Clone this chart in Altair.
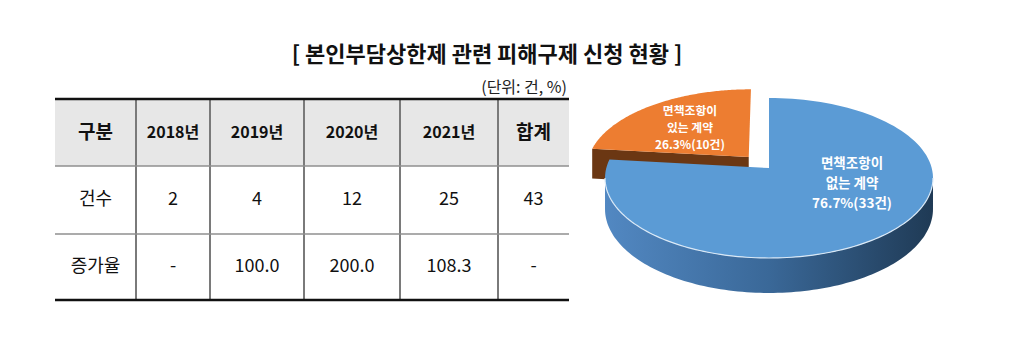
import altair as alt
import pandas as pd

# ---------------- data ----------------
title_text = "[ 본인부담상한제 관련 피해구제 신청 현황 ]"
unit_text = "(단위: 건, %)"
col_headers = ["구분", "2018년", "2019년", "2020년", "2021년", "합계"]
row_labels = ["건수", "증가율"]
count_values = ["2", "4", "12", "25", "43"]
rate_values = ["-", "100.0", "200.0", "108.3", "-"]

pie_names = ["면책조항이 없는 계약", "면책조항이 있는 계약"]
pie_counts = [33, 10]
pie_pct_text = ["76.7%", "26.3%"]

# ---------------- layout / style ----------------
W, H = 1024, 351
FONT = "Noto Sans CJK KR"
COL_EDGES = [55, 136, 210, 304, 400, 498, 569]
ROW_EDGES = [99, 166, 234, 300]
TITLE_POS = (487, 55)
UNIT_POS = (567, 88)
CX, CY, RX, RY, Q, DEPTH = 769, 168, 162.7, 78.75, 0.125, 30.6
EXPLODE = [0.0, 0.19]
LABEL_POS = [(852, 184), (690, 128)]
LABEL_SIZE = [13.5, 11.8]
LABEL_LINE = [19.7, 17.2]
TOP_COLORS = ["#5b9bd5", "#ed7d31"]
FACE_COLORS = ["#2f5a83", "#6b3713"]
WALL_STOPS = [["#5288c2", "#3a6898", "#1f3a55"], ["#b35d22", "#8a4516", "#5e2f0c"]]
N = 120

X = alt.X("px:Q", scale=alt.Scale(domain=[0, W], nice=False, zero=False), axis=None)
Y = alt.Y("py:Q", scale=alt.Scale(domain=[0, H], nice=False, zero=False, reverse=True), axis=None)
X2 = alt.X2("px2:Q")
Y2 = alt.Y2("py2:Q")

# ---------------- table ----------------
rows = [col_headers, [row_labels[0]] + count_values, [row_labels[1]] + rate_values]
cells = []
for r, row in enumerate(rows):
    for c, txt in enumerate(row):
        kind = "body"
        if r == 0:
            kind = "head_year" if txt[0].isdigit() else "head"
        cells.append({
            "text": txt, "kind": kind,
            "px": (COL_EDGES[c] + COL_EDGES[c + 1]) / 2,
            "py": (ROW_EDGES[r] + ROW_EDGES[r + 1]) / 2,
        })
cells_df = pd.DataFrame(cells)

header_bg = alt.Chart(pd.DataFrame([{
    "px": COL_EDGES[0], "px2": COL_EDGES[-1], "py": ROW_EDGES[0], "py2": ROW_EDGES[1]
}])).mark_rect(fill="#e7e7e7").encode(x=X, x2=X2, y=Y, y2=Y2)

thick_df = pd.DataFrame([{"px": COL_EDGES[0], "px2": COL_EDGES[-1], "py": y}
                         for y in (ROW_EDGES[0], ROW_EDGES[-1])])
thin_df = pd.DataFrame([{"px": COL_EDGES[0], "px2": COL_EDGES[-1], "py": y}
                        for y in ROW_EDGES[1:-1]])
vline_df = pd.DataFrame([{"px": x, "py": ROW_EDGES[0], "py2": ROW_EDGES[-1]}
                         for x in COL_EDGES[1:-1]])

vlines = alt.Chart(vline_df).mark_rule(color="#7a7a7a", strokeWidth=2).encode(x=X, y=Y, y2=Y2)
thin_lines = alt.Chart(thin_df).mark_rule(color="#8f8f8f", strokeWidth=1.5).encode(x=X, x2=X2, y=Y)
thick_lines = alt.Chart(thick_df).mark_rule(color="#111111", strokeWidth=2.6).encode(x=X, x2=X2, y=Y)

def cell_text(kind, size, weight):
    return alt.Chart(cells_df).transform_filter(f"datum.kind == '{kind}'").mark_text(
        font=FONT, fontSize=size, fontWeight=weight, color="#111111",
        align="center", baseline="middle"
    ).encode(x=X, y=Y, text="text:N")

head_txt = cell_text("head", 19, "bold")
year_txt = cell_text("head_year", 16, "bold")
body_txt = cell_text("body", 18, "normal")

misc_df = pd.DataFrame([
    {"text": title_text, "px": TITLE_POS[0], "py": TITLE_POS[1], "kind": "title"},
    {"text": unit_text, "px": UNIT_POS[0], "py": UNIT_POS[1], "kind": "unit"},
])
title_txt = alt.Chart(misc_df).transform_filter("datum.kind == 'title'").mark_text(
    font=FONT, fontSize=22, fontWeight="bold", color="#111111", align="center", baseline="middle"
).encode(x=X, y=Y, text="text:N")
unit_txt = alt.Chart(misc_df).transform_filter("datum.kind == 'unit'").mark_text(
    font=FONT, fontSize=16, color="#222222", align="right", baseline="middle"
).encode(x=X, y=Y, text="text:N")

# ---------------- 3D pie ----------------
pie_df = pd.DataFrame({
    "name": pie_names,
    "count": pie_counts,
    "pct": pie_pct_text,
    "order": list(range(len(pie_names))),
    "explode": EXPLODE,
})

# one text row per label line
label_rows = []
for i, (n, p, c) in enumerate(zip(pie_names, pie_pct_text, pie_counts)):
    first, second = n.split(" ", 1)
    lines = [first, second, p + f"({c}건)"]
    for j, line in enumerate(lines):
        label_rows.append({
            "order": i, "text": line,
            "px": LABEL_POS[i][0],
            "py": LABEL_POS[i][1] + (j - (len(lines) - 1) / 2) * LABEL_LINE[i],
        })
label_df = pd.DataFrame(label_rows)


def pie_base(i):
    return (
        alt.Chart(pie_df)
        .transform_joinaggregate(total="sum(count)")
        .transform_window(cum="sum(count)", sort=[alt.SortField("order")], frame=[None, 0])
        .transform_calculate(
            t0="2*PI*(datum.cum - datum.count)/datum.total",
            t1="2*PI*datum.cum/datum.total",
        )
        .transform_calculate(
            tm="(datum.t0 + datum.t1)/2",
        )
        .transform_calculate(
            ox="datum.explode*sin(datum.tm)",
            oz="-datum.explode*cos(datum.tm)",
        )
        .transform_filter(f"datum.order == {i}")
    )


def project(ch):
    return ch.transform_calculate(
        w=f"1/(1 - {Q}*datum.Z)"
    ).transform_calculate(
        px=f"{CX} + {RX}*datum.X*datum.w",
        py=f"{CY} + {RY}*datum.Z*datum.w + (datum.bottom ? {DEPTH}*datum.w : 0)",
    )


def top_face(i):
    ch = pie_base(i).transform_calculate(k=f"sequence(0, {N + 2})").transform_flatten(["k"])
    ch = ch.transform_calculate(
        t=f"datum.t0 + (datum.t1 - datum.t0)*(datum.k - 1)/{N}",
    ).transform_calculate(
        X="(datum.k == 0 ? 0 : sin(datum.t)) + datum.ox",
        Z="(datum.k == 0 ? 0 : -cos(datum.t)) + datum.oz",
        bottom="false",
    )
    return project(ch).mark_line(fill=TOP_COLORS[i], strokeWidth=0, interpolate="linear").encode(
        x=X, y=Y, order="k:Q")


def wall_points(i, total_pts, bottom_expr, t_expr):
    ch = pie_base(i).transform_calculate(
        ta=f"acos(-{Q})",
    ).transform_calculate(
        wa="max(datum.t0, datum.ta)",
        wb=f"min(datum.t1, 2*PI - datum.ta)",
    ).transform_filter("datum.wa < datum.wb").transform_calculate(
        k=f"sequence(0, {total_pts})"
    ).transform_flatten(["k"]).transform_calculate(
        t=t_expr
    ).transform_calculate(
        X="sin(datum.t) + datum.ox",
        Z="-cos(datum.t) + datum.oz",
        bottom=bottom_expr,
    )
    return project(ch)


def wall(i):
    M = N
    t_expr = (f"datum.k <= {M} ? datum.wa + (datum.wb - datum.wa)*datum.k/{M} : "
              f"datum.wb - (datum.wb - datum.wa)*(datum.k - {M} - 1)/{M}")
    ch = wall_points(i, 2 * M + 2, f"datum.k > {M}", t_expr)
    stops = WALL_STOPS[i]
    grad = alt.Gradient(
        gradient="linear",
        stops=[alt.GradientStop(color=stops[0], offset=0),
               alt.GradientStop(color=stops[1], offset=0.5),
               alt.GradientStop(color=stops[2], offset=1)],
        x1=0, x2=1, y1=0, y2=0,
    )
    return ch.mark_line(fill=grad, strokeWidth=0, interpolate="linear").encode(x=X, y=Y, order="k:Q")


def rim(i):
    ch = wall_points(i, N + 1, "false", f"datum.wa + (datum.wb - datum.wa)*datum.k/{N}")
    return ch.mark_line(stroke="#d9e8f6", strokeWidth=1.2, interpolate="linear").encode(
        x=X, y=Y, order="k:Q")


def cut_face(i, which):
    # which: 't0' face visible if sin(t0) < 0, 't1' face visible if sin(t1) > 0
    cond = "sin(datum.t0) < -1e-6" if which == "t0" else "sin(datum.t1) > 1e-6"
    ch = pie_base(i).transform_filter(cond).transform_calculate(
        k="sequence(0, 4)"
    ).transform_flatten(["k"]).transform_calculate(
        r="(datum.k == 1 || datum.k == 2) ? 1 : 0",
        bottom="datum.k >= 2",
    ).transform_calculate(
        X=f"datum.r*sin(datum.{which}) + datum.ox",
        Z=f"-datum.r*cos(datum.{which}) + datum.oz",
    )
    return project(ch).mark_line(fill=FACE_COLORS[i], strokeWidth=0, interpolate="linear").encode(
        x=X, y=Y, order="k:Q")


pie_layers = []
for i in [1, 0]:  # back slice first
    pie_layers += [wall(i), cut_face(i, "t0"), cut_face(i, "t1"), top_face(i), rim(i)]

pie_text = [
    alt.Chart(label_df).transform_filter(f"datum.order == {i}").mark_text(
        font=FONT, fontSize=LABEL_SIZE[i], fontWeight="bold", color="white",
        align="center", baseline="middle",
    ).encode(x=X, y=Y, text="text:N")
    for i in range(len(pie_names))
]

chart = alt.layer(
    header_bg, vlines, thin_lines, thick_lines,
    head_txt, year_txt, body_txt, title_txt, unit_txt,
    *pie_layers, *pie_text,
).properties(
    width=W, height=H, autosize="none", padding=0, background="white"
).configure_view(stroke=None)

chart.save("out.html", embed_options={"renderer": "svg", "actions": False})
